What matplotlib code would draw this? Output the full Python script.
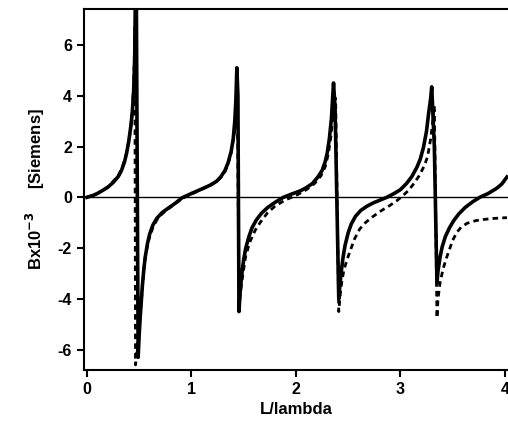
import matplotlib.pyplot as plt

plt.rcParams['font.family'] = ['Liberation Sans', 'DejaVu Sans']
plt.rcParams['axes.unicode_minus'] = False

# solid curve
solid_x = [0.0, 0.05, 0.1, 0.15, 0.2, 0.25, 0.3, 0.33, 0.36, 0.38, 0.4, 0.42, 0.435, 0.447,
           0.457, 0.465, 0.472,
           0.49, 0.5, 0.51, 0.52, 0.53, 0.545, 0.56, 0.58, 0.6, 0.63, 0.67, 0.72, 0.78,
           0.84, 0.91, 1.0, 1.1, 1.18, 1.24, 1.28, 1.32, 1.35, 1.38, 1.4, 1.415, 1.425,
           1.435, 1.445,
           1.455, 1.465, 1.48, 1.5, 1.52, 1.55, 1.58, 1.62, 1.67, 1.73, 1.8, 1.88, 1.96,
           2.04, 2.1, 2.16, 2.21, 2.25, 2.28, 2.3, 2.32, 2.34, 2.36, 2.375,
           2.41, 2.42, 2.435, 2.45, 2.47, 2.5, 2.53, 2.57, 2.62, 2.68, 2.74, 2.8, 2.87,
           2.94, 3.0, 3.06, 3.11, 3.16, 3.19, 3.22, 3.25, 3.27, 3.29, 3.30, 3.325,
           3.35, 3.36, 3.38, 3.4, 3.43, 3.47, 3.51, 3.56, 3.62, 3.69, 3.76, 3.84, 3.92,
           3.97, 4.02]
solid_y = [0.0, 0.06, 0.15, 0.27, 0.4, 0.58, 0.82, 1.05, 1.4, 1.75, 2.2, 2.8, 3.4, 4.2,
           5.5, 8.5, 8.5,
           -6.3, -5.4, -4.7, -4.1, -3.5, -2.8, -2.3, -1.8, -1.45, -1.1, -0.82, -0.6, -0.42,
           -0.25, -0.02, 0.15, 0.33, 0.48, 0.63, 0.8, 1.05, 1.35, 1.8, 2.3, 3.0, 3.8,
           5.1, 4.0,
           -4.5, -3.8, -3.1, -2.45, -2.0, -1.55, -1.2, -0.9, -0.63, -0.4, -0.2, 0.0, 0.13,
           0.25, 0.38, 0.55, 0.8, 1.05, 1.4, 1.75, 2.3, 3.1, 4.5, 3.5,
           -4.0, -3.5, -2.9, -2.4, -1.9, -1.4, -1.05, -0.75, -0.52, -0.35, -0.22, -0.12, 0.0,
           0.15, 0.3, 0.55, 0.82, 1.2, 1.5, 1.95, 2.6, 3.3, 3.9, 4.35, 2.0,
           -3.4, -2.9, -2.35, -1.95, -1.55, -1.2, -0.92, -0.65, -0.4, -0.18, 0.0, 0.15, 0.35,
           0.52, 0.8]

# dashed curve
dash_x = [0.0, 0.1, 0.2, 0.3, 0.34, 0.38, 0.41, 0.43, 0.445, 0.452, 0.458, 0.465,
          0.49, 0.51, 0.53, 0.555, 0.59, 0.63, 0.67, 0.72, 0.78, 0.84, 0.91, 1.0, 1.1,
          1.18, 1.24, 1.28, 1.32, 1.35, 1.38, 1.41, 1.43, 1.44,
          1.455, 1.47, 1.49, 1.52, 1.56, 1.61, 1.66, 1.73, 1.8, 1.9, 2.0, 2.1, 2.18, 2.24,
          2.28, 2.31, 2.335, 2.355, 2.37, 2.38,
          2.41, 2.425, 2.44, 2.46, 2.49, 2.52, 2.56, 2.61, 2.67, 2.74, 2.82, 2.9, 2.97,
          3.02, 3.08, 3.13, 3.18, 3.23, 3.26, 3.29, 3.31, 3.325,
          3.35, 3.36, 3.38, 3.41, 3.44, 3.47, 3.5, 3.54, 3.58, 3.64, 3.72, 3.8, 3.9, 4.02]
dash_y = [0.0, 0.15, 0.4, 0.85, 1.2, 1.75, 2.45, 3.2, 4.2, 5.2, 6.7, -6.6,
          -5.5, -4.6, -3.6, -2.4, -1.7, -1.2, -0.88, -0.65, -0.45, -0.27, -0.05, 0.13, 0.32,
          0.47, 0.62, 0.78, 1.0, 1.3, 1.75, 2.5, 3.4, 4.0,
          -4.4, -3.7, -3.1, -2.3, -1.75, -1.3, -0.98, -0.6, -0.35, -0.1, 0.07, 0.3, 0.55,
          0.85, 1.2, 1.7, 2.4, 3.2, 3.8, 3.9,
          -4.5, -3.8, -3.3, -2.85, -2.45, -2.1, -1.65, -1.25, -0.98, -0.75, -0.52, -0.32,
          -0.12, 0.05, 0.28, 0.55, 0.85, 1.25, 1.6, 2.3, 3.0, 3.6,
          -4.75, -4.0, -3.35, -2.8, -2.4, -2.05, -1.7, -1.38, -1.18, -1.02, -0.92, -0.87,
          -0.83, -0.8]

fig = plt.figure(figsize=(5.08, 4.33), dpi=100)
ax = fig.add_axes([0.165, 0.1455, 0.835, 0.834])

ax.axhline(0, color='black', lw=1.0)
ax.plot(dash_x, dash_y, color='black', lw=2.0, linestyle=(0, (2, 1.5)))
ax.plot(solid_x, solid_y, color='black', lw=2.6)

ax.set_xlim(-0.03, 4.03)
ax.set_ylim(-6.8, 7.42)
ax.set_xticks([0, 1, 2, 3, 4])
ax.set_yticks([-6, -4, -2, 0, 2, 4, 6])

ax.spines['right'].set_visible(False)
for s in ['left', 'bottom', 'top']:
    ax.spines[s].set_linewidth(1.5)
ax.tick_params(direction='out', length=5, width=1.5, labelsize=11.5)
for lab in ax.get_xticklabels() + ax.get_yticklabels():
    lab.set_fontweight('bold')

ax.set_xlabel('L/lambda', fontsize=12, fontweight='bold', labelpad=4)
ax.set_ylabel('Bx10$^{\\mathbf{-3}}$     [Siemens]', fontsize=12, fontweight='bold', labelpad=8)

fig.savefig('out.png', dpi=100)
